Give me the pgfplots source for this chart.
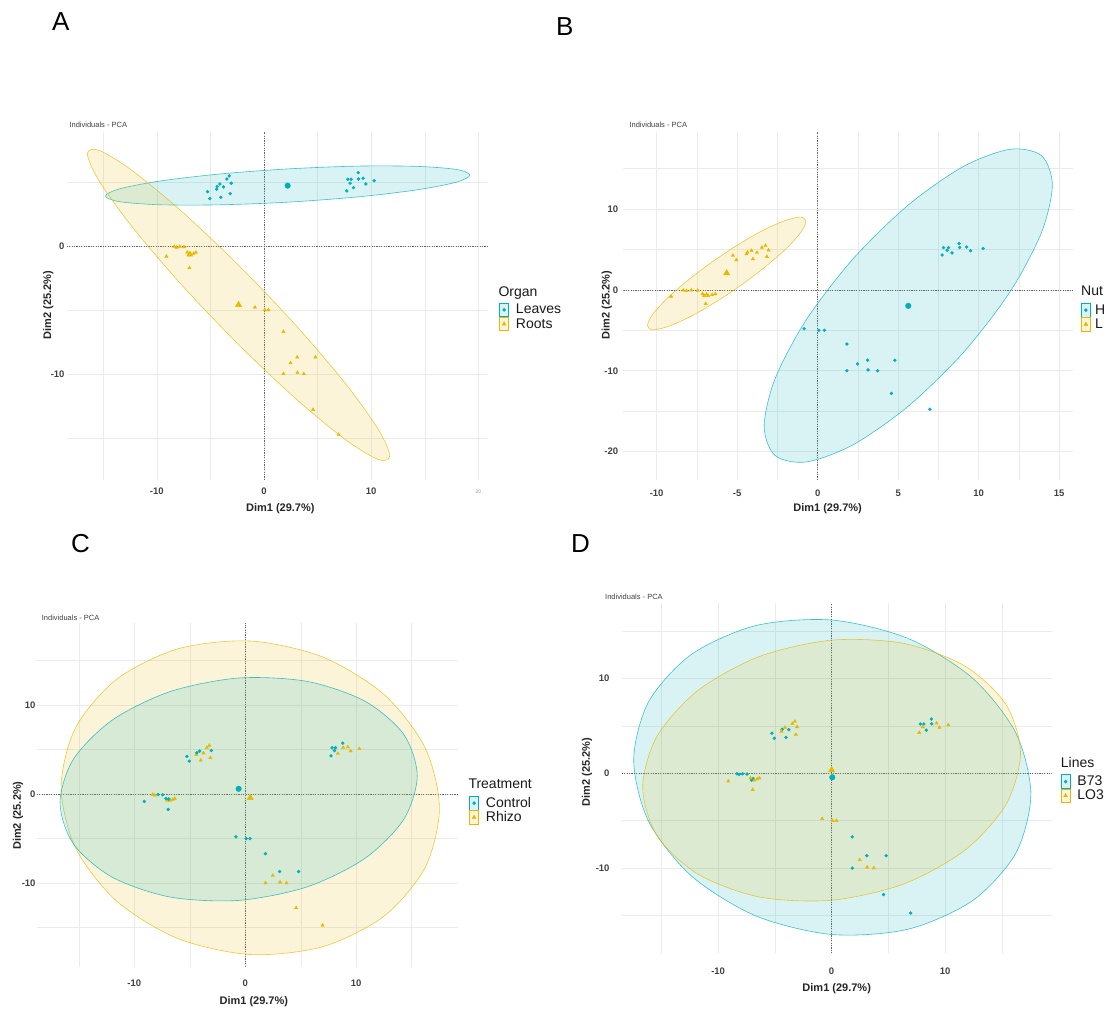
\documentclass[border=0pt]{standalone}
\usepackage{pgfplots}
\pgfplotsset{compat=1.18}
\usepackage{fontspec}
\setmainfont{Liberation Sans}
\definecolor{cyanC}{HTML}{00AFBB}
\definecolor{yelC}{HTML}{E7B800}
\newcommand{\lgf}{\fontsize{14}{14}\selectfont}
\pgfplotsset{
  pca/.style={
    scale only axis,
    axis line style={draw=none},
    tick style={draw=none},
    major tick length=0pt,
    grid=major,
    major grid style={black!8, line width=0.5pt},
    xticklabel style={font=\fontsize{9.5}{10}\selectfont\bfseries, text=black!75, anchor=center},
    yticklabel style={font=\fontsize{9.5}{10}\selectfont\bfseries, text=black!75, anchor=east, inner sep=0pt},
    xlabel={Dim1 (29.7\%)},
    ylabel={Dim2 (25.2\%)},
    label style={font=\fontsize{11}{12}\selectfont\bfseries, text=black!85},
    legend cell align=left,
    legend style={draw=none, fill=none, inner sep=0pt, outer sep=0pt, row sep=0pt, column sep=7pt, font=\lgf, text=black!90, nodes={inner sep=0pt}},
  },
  zero/.style={black!60, line width=0.6pt, dash pattern=on 1.2pt off 1.2pt, forget plot},
  ellC/.style={draw=cyanC, draw opacity=0.75, fill=cyanC, fill opacity=0.15, line width=0.6pt, smooth cycle, forget plot},
  ellY/.style={draw=yelC, draw opacity=0.75, fill=yelC, fill opacity=0.15, line width=0.6pt, smooth cycle, forget plot},
  ptC/.style={only marks, mark=*, mark size=1.5pt, color=cyanC, forget plot},
  ptY/.style={only marks, mark=triangle*, mark size=1.9pt, color=yelC, forget plot},
  cenC/.style={only marks, mark=*, mark size=2.8pt, color=cyanC, forget plot},
  cenY/.style={only marks, mark=triangle*, mark size=3.6pt, color=yelC, forget plot},
  legC/.style={legend image code/.code={
      \draw[cyanC, fill=cyanC, fill opacity=0.15, line width=0.7pt] (0pt,-6.75pt) rectangle (9pt,6.75pt);
      \fill[cyanC] (4.5pt,0pt) circle (1.6pt);}},
  legY/.style={legend image code/.code={
      \draw[yelC, fill=yelC, fill opacity=0.15, line width=0.7pt] (0pt,-6.75pt) rectangle (9pt,6.75pt);
      \fill[yelC] (4.5pt,2.3pt) -- (2.5pt,-1.2pt) -- (6.5pt,-1.2pt) -- cycle;}},
}
\begin{document}
\begin{tikzpicture}[x=1pt,y=1pt]
\useasboundingbox (0,0) rectangle (1107,1010);

% ---------------- Panel A ----------------
\begin{axis}[pca, at={(66.7pt,530pt)}, anchor=south west,
  width=421.3pt, height=348.3pt,
  xmin=-18.4, xmax=20.9, ymin=-18.3, ymax=8.93,
  xtick={-15,-10,-5,0,5,10,15,20},
  xticklabels={,-10,,0,,10,,{\fontsize{5}{5}\selectfont\mdseries\color{black!40}20}},
  ytick={-15,-10,-5,0,5},
  yticklabels={,-10,,0,},
  xticklabel style={yshift=-11.7pt},
  yticklabel style={xshift=-2pt},
  xlabel style={at={(axis description cs:0.507,-0.0813)}, anchor=center},
  ylabel style={at={(axis description cs:-0.0437,0.502)}, anchor=center},
  legend style={at={(axis description cs:1.0268,0.509)}, anchor=north west},
]
\addplot[zero] coordinates {(-18.4,0) (20.9,0)};
\addplot[zero] coordinates {(0,-18.3) (0,8.93)};
\addplot[ellC] coordinates {(19.22,5.54) (17.93,5.98) (14.24,6.22) (8.73,6.24) (2.22,6.02) (-4.29,5.61) (-9.80,5.06) (-13.49,4.46) (-14.78,3.90) (-13.49,3.46) (-9.80,3.22) (-4.29,3.21) (2.22,3.42) (8.73,3.83) (14.24,4.38) (17.93,4.98)};
\addplot[ellY] coordinates {(11.73,-16.41) (10.66,-14.33) (7.60,-10.76) (3.03,-6.26) (-2.37,-1.51) (-7.77,2.77) (-12.34,5.92) (-15.40,7.48) (-16.47,7.19) (-15.40,5.11) (-12.34,1.54) (-7.77,-2.96) (-2.37,-7.71) (3.03,-11.99) (7.60,-15.14) (10.66,-16.70)};
\addplot[ptY] coordinates {(-9.1,-0.82) (-8.35,-0.05) (-8.15,-0.12) (-7.85,-0.05) (-7.45,-0.08) (-7.15,-0.50) (-6.90,-0.55) (-7.05,-0.72) (-6.80,-0.72) (-6.55,-0.60) (-6.35,-0.50) (-6.95,-1.72) (-0.84,-4.80) (0.08,-5.00) (0.42,-5.00) (1.82,-6.70) (2.48,-9.15) (3.10,-8.70) (4.80,-8.70) (1.82,-10.00) (3.13,-9.90) (3.72,-10.00) (4.58,-12.80) (6.97,-14.75)};
\addplot[ptC] coordinates {(-5.26,4.24) (-5.05,3.70) (-4.42,4.43) (-4.36,4.64) (-4.11,4.84) (-4.02,3.80) (-3.77,4.61) (-3.46,5.23) (-3.24,5.47) (-3.15,4.09) (-3.05,4.90) (7.73,4.30) (7.82,5.21) (8.04,4.90) (8.13,5.21) (8.35,4.56) (8.79,5.73) (8.82,5.23) (9.25,5.29) (9.50,4.84) (10.28,5.10)};
\addplot[cenC] coordinates {(2.21,4.71)};
\addplot[cenY] coordinates {(-2.37,-4.61)};
\addlegendimage{legC}\addlegendentry{Leaves}
\addlegendimage{legY}\addlegendentry{Roots}
\end{axis}

% ---------------- Panel B ----------------
\begin{axis}[pca, at={(623.3pt,530pt)}, anchor=south west,
  width=450pt, height=348.3pt,
  xmin=-12.07, xmax=15.88, ymin=-23.5, ymax=19.54,
  xtick={-10,-7.5,-5,-2.5,0,2.5,5,7.5,10,12.5,15},
  xticklabels={-10,,-5,,0,,5,,10,,15},
  ytick={-20,-15,-10,-5,0,5,10,15},
  yticklabels={-20,,-10,,0,,10,},
  xticklabel style={yshift=-13.3pt},
  yticklabel style={xshift=-5pt},
  xlabel style={at={(axis description cs:0.454,-0.0813)}, anchor=center},
  ylabel style={at={(axis description cs:-0.0369,0.502)}, anchor=center},
  legend style={at={(axis description cs:1.0171,0.508)}, anchor=north west, column sep=4.5pt},
]
\addplot[zero] coordinates {(-12.07,0) (15.88,0)};
\addplot[zero] coordinates {(0,-23.5) (0,19.54)};
\addplot[ellC] coordinates {(14.58,12.95) (13.90,16.58) (11.96,17.37) (9.06,15.25) (5.63,10.48) (2.20,3.83) (-0.70,-3.69) (-2.64,-10.96) (-3.32,-16.85) (-2.64,-20.48) (-0.70,-21.27) (2.20,-19.15) (5.63,-14.38) (9.06,-7.73) (11.96,-0.21) (13.90,7.06)};
\addplot[ellY] coordinates {(-0.73,8.46) (-1.10,8.99) (-2.17,8.45) (-3.77,6.95) (-5.65,4.68) (-7.53,2.01) (-9.13,-0.65) (-10.20,-2.91) (-10.57,-4.42) (-10.20,-4.95) (-9.13,-4.41) (-7.53,-2.91) (-5.65,-0.64) (-3.77,2.03) (-2.17,4.69) (-1.10,6.95)};
\addplot[ptY] coordinates {(-5.26,4.24) (-5.05,3.70) (-4.42,4.43) (-4.36,4.64) (-4.11,4.84) (-4.02,3.80) (-3.77,4.61) (-3.46,5.23) (-3.24,5.47) (-3.15,4.09) (-3.05,4.90) (-9.1,-0.82) (-8.35,-0.05) (-8.15,-0.12) (-7.85,-0.05) (-7.45,-0.08) (-7.15,-0.50) (-6.90,-0.55) (-7.05,-0.72) (-6.80,-0.72) (-6.55,-0.60) (-6.35,-0.50) (-6.95,-1.72)};
\addplot[ptC] coordinates {(7.73,4.30) (7.82,5.21) (8.04,4.90) (8.13,5.21) (8.35,4.56) (8.79,5.73) (8.82,5.23) (9.25,5.29) (9.50,4.84) (10.28,5.10) (-0.84,-4.80) (0.08,-5.00) (0.42,-5.00) (1.82,-6.70) (2.48,-9.15) (3.10,-8.70) (4.80,-8.70) (1.82,-10.00) (3.13,-9.90) (3.72,-10.00) (4.58,-12.80) (6.97,-14.75)};
\addplot[cenC] coordinates {(5.63,-1.98)};
\addplot[cenY] coordinates {(-5.65,2.06)};
\addlegendimage{legC}\addlegendentry{H}
\addlegendimage{legY}\addlegendentry{L}
\end{axis}

% ---------------- Panel C ----------------
\begin{axis}[pca, at={(36.7pt,43.3pt)}, anchor=south west,
  width=421.6pt, height=343.4pt,
  xmin=-18.8, xmax=19.2, ymin=-19.4, ymax=19.2,
  xtick={-15,-10,-5,0,5,10,15},
  xticklabels={,-10,,0,,10,},
  ytick={-15,-10,-5,0,5,10,15},
  yticklabels={,-10,,0,,10,},
  xticklabel style={yshift=-16.6pt},
  yticklabel style={xshift=-1pt},
  xlabel style={at={(axis description cs:0.515,-0.102)}, anchor=center},
  ylabel style={at={(axis description cs:-0.0444,0.44)}, anchor=center},
  legend style={at={(axis description cs:1.026,0.497)}, anchor=north west},
]
\addplot[zero] coordinates {(-18.8,0) (19.2,0)};
\addplot[zero] coordinates {(0,-19.4) (0,19.2)};
\addplot[ellY] coordinates {(17.5,-1.61) (16.20,5.23) (12.50,11.20) (6.98,15.41) (0.45,17.21) (-6.08,16.33) (-11.60,12.90) (-15.30,7.45) (-16.6,0.79) (-15.30,-6.05) (-11.60,-12.02) (-6.08,-16.23) (0.45,-18.03) (6.98,-17.15) (12.50,-13.72) (16.20,-8.27)};
\addplot[ellC] coordinates {(15.5,2.05) (14.28,6.72) (10.78,10.45) (5.57,12.67) (-0.6,13.05) (-6.77,11.53) (-11.98,8.33) (-15.48,3.95) (-16.7,-0.95) (-15.48,-5.62) (-11.98,-9.35) (-6.77,-11.57) (-0.6,-11.95) (5.57,-10.43) (10.78,-7.23) (14.28,-2.85)};
\addplot[ptY] coordinates {(-4.42,4.43) (-4.02,3.80) (-3.77,4.61) (-3.46,5.23) (-3.24,5.47) (-3.15,4.09) (8.35,4.56) (8.82,5.23) (9.25,5.29) (9.50,4.84) (10.28,5.10) (-8.35,-0.05) (-8.15,-0.12) (-7.05,-0.72) (-6.80,-0.72) (-6.55,-0.60) (-6.35,-0.50) (2.48,-9.15) (1.82,-10.00) (3.13,-9.90) (3.72,-10.00) (4.58,-12.80) (6.97,-14.75)};
\addplot[ptC] coordinates {(-5.26,4.24) (-5.05,3.70) (-4.36,4.64) (-4.11,4.84) (-3.05,4.90) (7.73,4.30) (7.82,5.21) (8.04,4.90) (8.13,5.21) (8.79,5.73) (-9.1,-0.82) (-7.85,-0.05) (-7.45,-0.08) (-7.15,-0.50) (-6.90,-0.55) (-6.95,-1.72) (-0.84,-4.80) (0.08,-5.00) (0.42,-5.00) (1.82,-6.70) (3.10,-8.70) (4.80,-8.70)};
\addplot[cenC] coordinates {(-0.6,0.6)};
\addplot[cenY] coordinates {(0.45,-0.41)};
\addlegendimage{legC}\addlegendentry{Control}
\addlegendimage{legY}\addlegendentry{Rhizo}
\end{axis}

% ---------------- Panel D ----------------
\begin{axis}[pca, at={(621.7pt,56.7pt)}, anchor=south west,
  width=430pt, height=350pt,
  xmin=-18.5, xmax=19.4, ymin=-19.0, ymax=17.95,
  xtick={-15,-10,-5,0,5,10,15},
  xticklabels={,-10,,0,,10,},
  ytick={-15,-10,-5,0,5,10,15},
  yticklabels={,-10,,0,,10,},
  xticklabel style={yshift=-18.4pt},
  yticklabel style={xshift=-12pt},
  xlabel style={at={(axis description cs:0.5,-0.1)}, anchor=center},
  ylabel style={at={(axis description cs:-0.0807,0.518)}, anchor=center},
  legend style={at={(axis description cs:1.021,0.511)}, anchor=north west},
]
\addplot[zero] coordinates {(-18.5,0) (19.4,0)};
\addplot[zero] coordinates {(0,-19.0) (0,17.95)};
\addplot[ellC] coordinates {(17.56,-2.22) (16.23,4.28) (12.43,10.04) (6.76,14.23) (0.06,16.18) (-6.64,15.61) (-12.31,12.59) (-16.11,7.60) (-17.44,1.38) (-16.11,-5.12) (-12.31,-10.88) (-6.64,-15.07) (0.06,-17.02) (6.76,-16.45) (12.43,-13.43) (16.23,-8.44)};
\addplot[ellY] coordinates {(16.65,2.13) (15.38,7.25) (11.77,11.31) (6.38,13.71) (0,14.06) (-6.38,12.33) (-11.77,8.76) (-15.38,3.93) (-16.65,-1.47) (-15.38,-6.59) (-11.77,-10.65) (-6.38,-13.05) (0,-13.40) (6.38,-11.67) (11.77,-8.10) (15.38,-3.27)};
\addplot[ptC] coordinates {(-5.26,4.24) (-5.05,3.70) (-4.36,4.64) (-4.02,3.80) (-3.77,4.61) (7.82,5.21) (8.13,5.21) (8.35,4.56) (8.79,5.73) (8.82,5.23) (-8.35,-0.05) (-8.15,-0.12) (-7.85,-0.05) (-7.45,-0.08) (-6.90,-0.55) (-7.05,-0.72) (1.82,-6.70) (3.10,-8.70) (4.80,-8.70) (1.82,-10.00) (4.58,-12.80) (6.97,-14.75)};
\addplot[ptY] coordinates {(-4.42,4.43) (-4.11,4.84) (-3.46,5.23) (-3.24,5.47) (-3.15,4.09) (-3.05,4.90) (7.73,4.30) (8.04,4.90) (9.25,5.29) (9.50,4.84) (10.28,5.10) (-9.1,-0.82) (-7.15,-0.50) (-6.80,-0.72) (-6.55,-0.60) (-6.35,-0.50) (-6.95,-1.72) (-0.84,-4.80) (0.08,-5.00) (0.42,-5.00) (2.48,-9.15) (3.13,-9.90) (3.72,-10.00)};
\addplot[cenC] coordinates {(0.06,-0.42)};
\addplot[cenY] coordinates {(0.0,0.35)};
\addlegendimage{legC}\addlegendentry{B73}
\addlegendimage{legY}\addlegendentry{LO3}
\end{axis}

% ---------------- Texts ----------------
\node[anchor=base west, font=\fontsize{26}{26}\selectfont, inner sep=0pt] at (52,979) {A};
\node[anchor=base west, font=\fontsize{26}{26}\selectfont, inner sep=0pt] at (556,974) {B};
\node[anchor=base west, font=\fontsize{26}{26}\selectfont, inner sep=0pt] at (71,457) {C};
\node[anchor=base west, font=\fontsize{26}{26}\selectfont, inner sep=0pt] at (571,457) {D};
\node[anchor=west, font=\fontsize{7.5}{8}\selectfont, text=black!75, inner sep=0pt] at (69.3,885) {Individuals - PCA};
\node[anchor=west, font=\fontsize{7.5}{8}\selectfont, text=black!75, inner sep=0pt] at (629.3,885) {Individuals - PCA};
\node[anchor=west, font=\fontsize{7.5}{8}\selectfont, text=black!75, inner sep=0pt] at (41.7,391.7) {Individuals - PCA};
\node[anchor=west, font=\fontsize{7.5}{8}\selectfont, text=black!75, inner sep=0pt] at (605,412.7) {Individuals - PCA};
\node[anchor=base west, font=\lgf, text=black!90, inner sep=0pt] at (498.3,713.5) {Organ};
\node[anchor=base west, font=\lgf, text=black!90, inner sep=0pt] at (1081,714) {Nut};
\node[anchor=base west, font=\lgf, text=black!90, inner sep=0pt] at (468.3,221.7) {Treatment};
\node[anchor=base west, font=\lgf, text=black!90, inner sep=0pt] at (1060.7,242.7) {Lines};
\end{tikzpicture}
\end{document}
